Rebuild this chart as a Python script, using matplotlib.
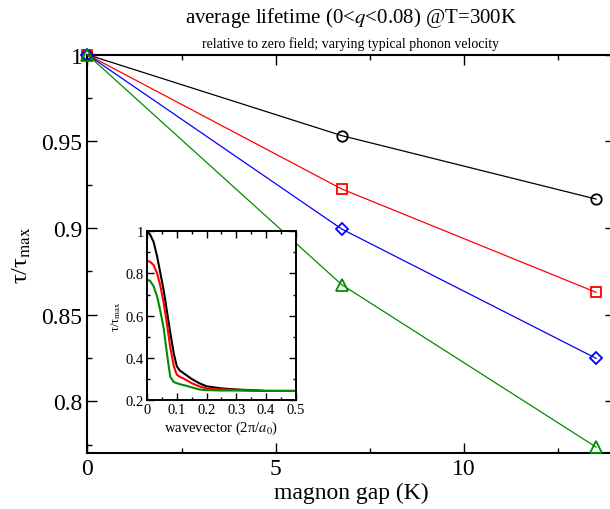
import matplotlib
matplotlib.use("Agg")
import matplotlib.pyplot as plt
from matplotlib.ticker import MultipleLocator, FuncFormatter

plt.rcParams['font.family'] = ['Liberation Serif', 'DejaVu Serif']
plt.rcParams['mathtext.fontset'] = 'stix'

# ---- main data ----
gap = [0.0, 6.75, 13.5]
tau_black = [1.0, 0.9533, 0.9167]
tau_red = [1.0, 0.9225, 0.8629]
tau_blue = [1.0, 0.8994, 0.8248]
tau_green = [1.0, 0.8673, 0.7736]

main_xticks = [0, 5, 10]
main_yticks = [0.8, 0.85, 0.9, 0.95, 1.0]

# ---- inset data ----
q = [0, 0.01, 0.022, 0.034, 0.045, 0.056, 0.067, 0.078, 0.09, 0.1,
     0.11, 0.125, 0.15, 0.175, 0.2, 0.25, 0.3, 0.4, 0.5]
ins_black = [1.0, 0.985, 0.95, 0.88, 0.80, 0.72, 0.62, 0.52, 0.42, 0.36,
             0.34, 0.325, 0.30, 0.28, 0.265, 0.255, 0.25, 0.243, 0.243]
ins_red = [0.86, 0.855, 0.84, 0.80, 0.74, 0.66, 0.56, 0.45, 0.36, 0.32,
           0.31, 0.30, 0.28, 0.265, 0.255, 0.25, 0.248, 0.243, 0.243]
ins_green = [0.77, 0.765, 0.74, 0.69, 0.62, 0.54, 0.42, 0.31, 0.285, 0.28,
             0.275, 0.27, 0.26, 0.25, 0.247, 0.245, 0.245, 0.243, 0.243]

inset_xticks = [0, 0.1, 0.2, 0.3, 0.4, 0.5]
inset_yticks = [0.2, 0.4, 0.6, 0.8, 1.0]

GREEN = '#008c00'
fmt = FuncFormatter(lambda v, p: '%g' % round(v, 4))

fig = plt.figure(figsize=(6.1, 5.1), dpi=100)
ax = fig.add_axes([0.1434, 0.1092, 0.8646, 0.7816])

series = [(tau_black, 'black', 'o', 7.5),
          (tau_red, 'red', 's', 6.5),
          (tau_blue, 'blue', 'D', 5.8),
          (tau_green, GREEN, '^', 8.0)]
for vals, c, m, ms in series:
    ax.plot(gap, vals, color=c, lw=0.9, marker=m, ms=ms, mfc='none',
            mec=c, mew=1.3, clip_on=False, zorder=3)

ax.set_xlim(0, 14)
ax.set_ylim(0.77, 1.0)
ax.set_xticks(main_xticks)
ax.set_yticks(main_yticks)
ax.xaxis.set_minor_locator(MultipleLocator(2.5))
ax.yaxis.set_minor_locator(MultipleLocator(0.025))
ax.xaxis.set_major_formatter(fmt)
ax.yaxis.set_major_formatter(fmt)
ax.tick_params(which='both', direction='in', top=True, right=True,
               labelsize=17, width=1.0)
ax.tick_params(which='major', length=7)
ax.tick_params(which='minor', length=3.5)
for s in ax.spines.values():
    s.set_linewidth(1.5)
ax.set_xlabel('magnon gap (K)', fontsize=17, labelpad=2)
ax.set_ylabel(r'τ/τ$_{\rm max}$', fontsize=17.5, labelpad=6)

fig.text(0.575, 0.964, r'average lifetime (0<$q$<0.08) @T=300K',
         ha='center', va='center', fontsize=15)
fig.text(0.575, 0.914, 'relative to zero field; varying typical phonon velocity',
         ha='center', va='center', fontsize=10)

# ---- inset ----
ins = fig.add_axes([0.241, 0.2137, 0.244, 0.331])
ins.plot(q, ins_black, color='black', lw=1.5)
ins.plot(q, ins_red, color='red', lw=1.5)
ins.plot(q, ins_green, color=GREEN, lw=1.5)
ins.set_xlim(0, 0.5)
ins.set_ylim(0.2, 1.0)
ins.set_xticks(inset_xticks)
ins.set_yticks(inset_yticks)
ins.xaxis.set_minor_locator(MultipleLocator(0.05))
ins.yaxis.set_minor_locator(MultipleLocator(0.1))
ins.xaxis.set_major_formatter(fmt)
ins.yaxis.set_major_formatter(fmt)
ins.tick_params(which='both', direction='in', top=True, right=True,
                labelsize=10.5, width=1.0, pad=2)
ins.tick_params(which='major', length=5)
ins.tick_params(which='minor', length=2.5)
for s in ins.spines.values():
    s.set_linewidth(1.4)
ins.set_xlabel(r'wavevector (2π/$a_0$)', fontsize=10.5, labelpad=2)
ins.set_ylabel(r'τ/τ$_{\rm max}$', fontsize=9, labelpad=2)

fig.savefig('out.png', dpi=100)
